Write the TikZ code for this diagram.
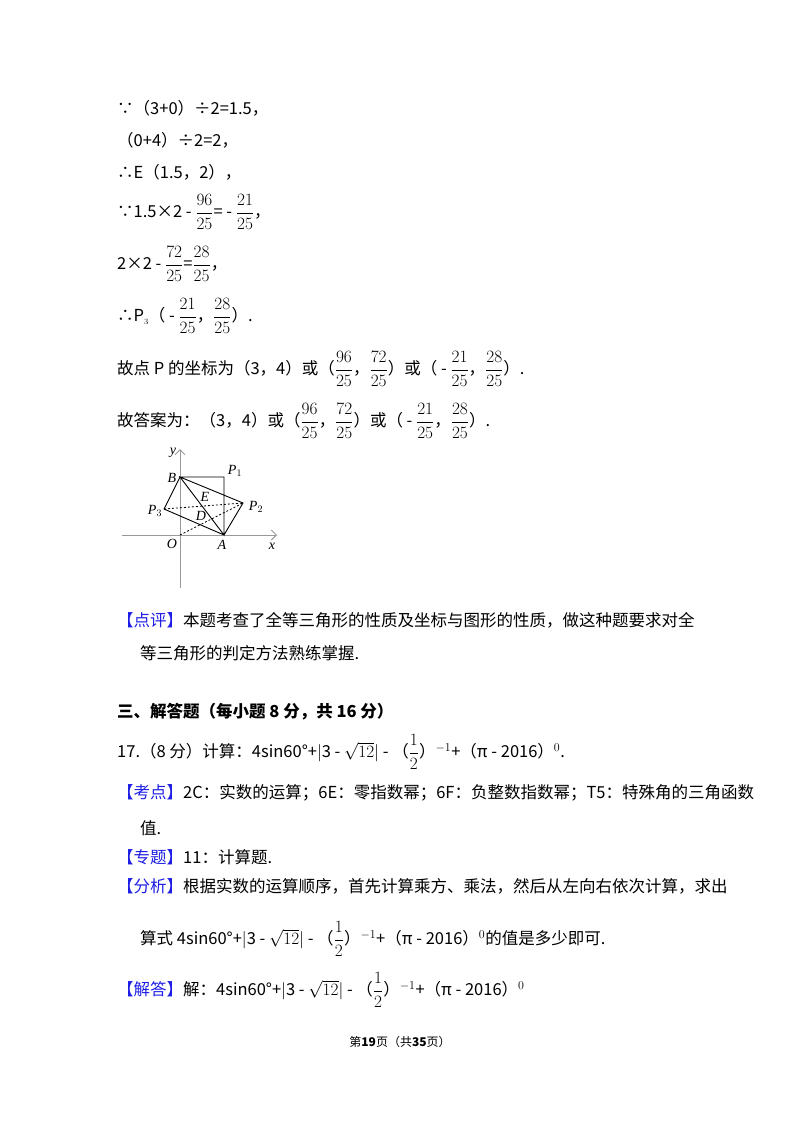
\documentclass[tikz,border=0pt]{standalone}
\usepackage{amsmath}
\usepackage{fontspec}
\usetikzlibrary{arrows.meta}
\setmainfont{Noto Sans CJK SC}
\newfontfamily\tms{Liberation Serif}
\definecolor{kblue}{RGB}{30,30,230}
\begin{document}
\begin{tikzpicture}[x=1pt,y=-1pt,
  txt/.style={anchor=west,inner sep=0pt,font=\fontsize{16.5}{19}\selectfont},
  lbl/.style={inner sep=0pt,font=\fontsize{14}{16}\tms\itshape},
  ax/.style={draw=gray!80,line width=0.9pt,-{Straight Barb[length=5pt]}},
  ln/.style={line width=0.9pt},
  dl/.style={line width=0.8pt,dashed,dash pattern=on 2pt off 2pt}]
\useasboundingbox[fill=white] (0,0) rectangle (800,1132);
\node[txt] (l1) at (117,108) {∵（3+0）÷2=1.5，};
\node[txt] (l2) at (117,140) {（0+4）÷2=2，};
\node[txt] (l3) at (117,172) {∴E（1.5，2），};
\node[txt] (l4) at (117,212) {∵1.5×2 - $\displaystyle\frac{96}{25}$= - $\displaystyle\frac{21}{25}$，};
\node[txt] (l5) at (117,264) {2×2 - $\displaystyle\frac{72}{25}$=$\displaystyle\frac{28}{25}$，};
\node[txt] (l6) at (117,316) {∴P$_{\scriptscriptstyle 3}$（ - $\displaystyle\frac{21}{25}$，$\displaystyle\frac{28}{25}$）.};
\node[txt] (l7) at (117,369) {故点 P 的坐标为（3，4）或（$\displaystyle\frac{96}{25}$，$\displaystyle\frac{72}{25}$）或（ - $\displaystyle\frac{21}{25}$，$\displaystyle\frac{28}{25}$）.};
\node[txt] (l8) at (117,421) {故答案为：（3，4）或（$\displaystyle\frac{96}{25}$，$\displaystyle\frac{72}{25}$）或（ - $\displaystyle\frac{21}{25}$，$\displaystyle\frac{28}{25}$）.};
% figure
\coordinate (O) at (180,535);
\coordinate (A) at (224,535);
\coordinate (B) at (180,477);
\coordinate (P1) at (224,477);
\coordinate (P2) at (243,503);
\coordinate (P3) at (164,509);
\coordinate (xs) at (122,535); \coordinate (xe) at (277,535);
\coordinate (ys) at (180,588); \coordinate (ye) at (180,449);
\draw[ax] (xs) -- (xe);
\draw[ax] (ys) -- (ye);
\draw[ln] (B) -- (P1) -- (A) -- (B) -- (P2) -- (A) -- (P3) -- (B);
\draw[dl] (P3) -- (P2);
\draw[dl] (O) -- (P2);
\node[lbl] (ly) at (173,453) {y};
\node[lbl] (lB) at (172,478) {B};
\node[lbl] (lP1) at (235,471) {P$_1$};
\node[lbl] (lE) at (205,497) {E};
\node[lbl] (lP2) at (256,507) {P$_2$};
\node[lbl] (lP3) at (155,511) {P$_3$};
\node[lbl] (lD) at (201,516) {D};
\node[lbl] (lO) at (172,544) {O};
\node[lbl] (lA) at (222,545) {A};
\node[lbl] (lx) at (272,546) {x};
% lower text
\node[txt] (c1) at (117,620) {{\color{kblue}【点评】}本题考查了全等三角形的性质及坐标与图形的性质，做这种题要求对全};
\node[txt] (c2) at (140,653) {等三角形的判定方法熟练掌握.};
\node[txt,font=\fontsize{16.5}{19}\selectfont\bfseries] (h) at (117,712) {三、解答题（每小题 8 分，共 16 分）};
\node[txt] (q) at (117,752) {17.（8 分）计算：4sin60°+$|$3 - $\sqrt{12}$$|$ - （$\displaystyle\frac{1}{2}$）$^{-1}$+（π - 2016）$^{0}$.};
\node[txt] (k1) at (117,793) {{\color{kblue}【考点】}2C：实数的运算；6E：零指数幂；6F：负整数指数幂；T5：特殊角的三角函数};
\node[txt] (k2) at (140,828) {值.};
\node[txt] (z) at (117,857) {{\color{kblue}【专题】}11：计算题.};
\node[txt] (f1) at (117,886) {{\color{kblue}【分析】}根据实数的运算顺序，首先计算乘方、乘法，然后从左向右依次计算，求出};
\node[txt] (f2) at (140,939) {算式 4sin60°+$|$3 - $\sqrt{12}$$|$ - （$\displaystyle\frac{1}{2}$）$^{-1}$+（π - 2016）$^{0}$的值是多少即可.};
\node[txt] (j) at (117,990) {{\color{kblue}【解答】}解：4sin60°+$|$3 - $\sqrt{12}$$|$ - （$\displaystyle\frac{1}{2}$）$^{-1}$+（π - 2016）$^{0}$};
\node[inner sep=0pt,font=\fontsize{12}{14}\selectfont] (ft) at (400,1042) {第\textbf{19}页（共\textbf{35}页）};
\end{tikzpicture}
\end{document}
